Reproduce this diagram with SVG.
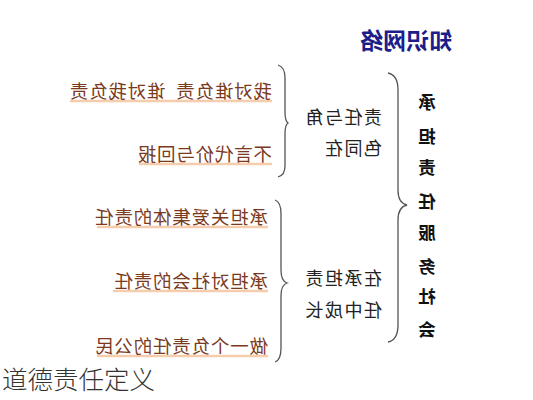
<svg xmlns="http://www.w3.org/2000/svg" width="533" height="400" viewBox="0 0 533 400">
<style>
text{font-family:"Noto Sans CJK SC","Noto Sans",sans-serif}
.title{font-size:23px;font-weight:bold;fill:#1c1c8a}
.vert{font-size:17.5px;font-weight:bold;fill:#111;text-anchor:middle}
.mid{font-size:18px;fill:#222;letter-spacing:1.5px}
.item{font-size:18.5px;fill:#7a3a1e;letter-spacing:0.8px;white-space:pre}
.ul{stroke:#f3b98a;stroke-width:2.5;opacity:0.7}
.brace{fill:none;stroke:#555;stroke-width:1.3}
.cap{font-size:25.5px;fill:#333;font-weight:300}
</style>
<rect width="533" height="400" fill="#fff"/>
<g id="diagram" transform="translate(533,0) scale(-1,1)">
  <g id="connectors">
    <path class="brace" d="M145,73 Q135,75 135,90 L135,190 Q135,203 126,205 Q135,207 135,220 L135,325 Q135,340 145,342"/>
    <path class="brace" d="M255,65 Q248,67 248,78 L248,112 Q248,121 245,123 Q248,125 248,134 L248,166 Q248,175 255,177"/>
    <path class="brace" d="M258,200 Q252,202 252,214 L252,270 Q252,281 246,283 Q252,285 252,296 L252,348 Q252,360 258,362"/>
  </g>
  <g id="title"><text class="title" x="81" y="49">知识网络</text></g>
  <g id="root">
    <text class="vert" x="106" y="109">承</text>
    <text class="vert" x="106" y="143">担</text>
    <text class="vert" x="106" y="174">责</text>
    <text class="vert" x="106" y="208">任</text>
    <text class="vert" x="106" y="239">服</text>
    <text class="vert" x="106" y="273">务</text>
    <text class="vert" x="106" y="303">社</text>
    <text class="vert" x="106" y="336">会</text>
  </g>
  <g id="branch1">
    <text class="mid" x="151" y="124">责任与角</text>
    <text class="mid" x="151" y="155">色同在</text>
  </g>
  <g id="branch2">
    <text class="mid" x="151" y="285">在承担责</text>
    <text class="mid" x="151" y="317">任中成长</text>
  </g>
  <g id="item1">
    <line class="ul" x1="261" y1="101" x2="463" y2="101"/>
    <text class="item" x="261" y="98" xml:space="preserve">我对谁负责  谁对我负责</text>
  </g>
  <g id="item2">
    <line class="ul" x1="261" y1="164" x2="394" y2="164"/>
    <text class="item" x="261" y="161">不言代价与回报</text>
  </g>
  <g id="item3">
    <line class="ul" x1="265" y1="227" x2="436" y2="227"/>
    <text class="item" x="265" y="224">承担关爱集体的责任</text>
  </g>
  <g id="item4">
    <line class="ul" x1="265" y1="291" x2="420" y2="291"/>
    <text class="item" x="265" y="288">承担对社会的责任</text>
  </g>
  <g id="item5">
    <line class="ul" x1="265" y1="356" x2="436" y2="356"/>
    <text class="item" x="265" y="353">做一个负责任的公民</text>
  </g>
</g>
<g id="caption"><text class="cap" x="2" y="389">道德责任定义</text></g>
</svg>
